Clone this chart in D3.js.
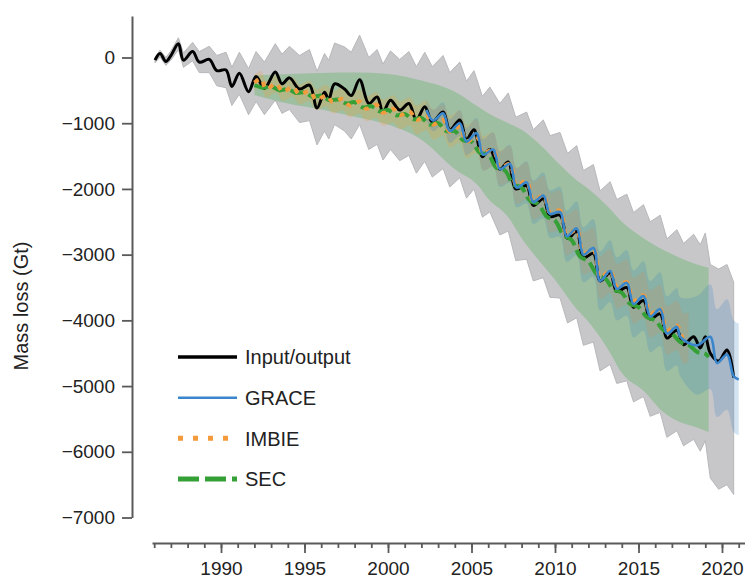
<!DOCTYPE html>
<html>
<head>
<meta charset="utf-8">
<script src="https://cdn.jsdelivr.net/npm/d3@7"></script>
<style>
  html, body { margin: 0; padding: 0; background: #fff; }
  svg { display: block; }
  text { font-family: "Liberation Sans", Arial, Helvetica, sans-serif; fill: #222; }
</style>
</head>
<body>
<svg id="chart" width="745" height="579"></svg>
<script>
// ---------------- DATA ----------------
// Input/output: [year, mass change (Gt), uncertainty below, uncertainty above (optional)]
const inputOutput = [
  [1986.05, -40, 40], [1986.35, 60, 50], [1986.7, -60, 60], [1987.0, 30, 70],
  [1987.45, 210, 90], [1987.75, -40, 110], [1988.3, 90, 140], [1988.7, -70, 160],
  [1989.3, -30, 200], [1989.75, -200, 230], [1990.3, -190, 270], [1990.65, -440, 290],
  [1991.1, -240, 320], [1991.65, -520, 350], [1992.1, -290, 380], [1992.6, -470, 400],
  [1993.25, -220, 430], [1993.65, -400, 450], [1994.1, -310, 480], [1994.7, -480, 510],
  [1995.3, -420, 540], [1995.75, -770, 560], [1996.2, -530, 590], [1996.45, -640, 600],
  [1996.8, -400, 620], [1997.4, -480, 640], [1997.8, -580, 660], [1998.3, -340, 680],
  [1998.85, -700, 700], [1999.35, -600, 720], [1999.7, -830, 730], [2000.15, -650, 750],
  [2000.7, -800, 770], [2001.25, -700, 790], [2001.7, -950, 810], [2002.2, -750, 830],
  [2002.65, -980, 840], [2003.3, -830, 860], [2003.7, -1100, 870], [2004.3, -950, 880],
  [2004.7, -1250, 890], [2005.15, -1100, 900], [2005.65, -1510, 920], [2006.1, -1400, 950],
  [2006.7, -1700, 1000], [2007.2, -1590, 1050], [2007.65, -2000, 1090], [2008.3, -1950, 1120],
  [2008.7, -2250, 1150], [2009.3, -2150, 1200], [2009.7, -2420, 1230], [2010.3, -2400, 1260],
  [2010.75, -2750, 1290], [2011.3, -2650, 1310], [2011.7, -3050, 1330], [2012.3, -2980, 1350],
  [2012.7, -3400, 1370], [2013.3, -3280, 1390], [2013.7, -3560, 1400], [2014.3, -3500, 1420],
  [2014.7, -3800, 1440], [2015.3, -3700, 1460], [2015.7, -3980, 1480], [2016.3, -3900, 1500],
  [2016.7, -4270, 1510], [2017.3, -4150, 1530], [2017.7, -4370, 1540], [2018.3, -4250, 1560],
  [2018.7, -4420, 1570], [2019.0, -4250, 1580], [2019.3, -4500, 1900, 1350],
  [2019.8, -4620, 1950, 1400], [2020.3, -4450, 2050, 1300], [2020.7, -4870, 1780, 1450]
];

// GRACE: [year, mass change (Gt), uncertainty]
const grace = [
  [2002.3, -800, 150], [2002.7, -960, 160], [2003.3, -850, 170], [2003.7, -1120, 180],
  [2004.3, -1000, 200], [2004.7, -1280, 210], [2005.3, -1150, 230], [2005.7, -1480, 240],
  [2006.3, -1400, 260], [2006.7, -1700, 270], [2007.3, -1620, 290], [2007.7, -1980, 300],
  [2008.3, -1900, 320], [2008.7, -2200, 330], [2009.3, -2100, 350], [2009.7, -2380, 360],
  [2010.3, -2350, 380], [2010.7, -2720, 390], [2011.3, -2600, 410], [2011.7, -3000, 420],
  [2012.3, -2900, 440], [2012.7, -3400, 450], [2013.3, -3250, 470], [2013.7, -3520, 480],
  [2014.3, -3430, 500], [2014.7, -3750, 510], [2015.3, -3630, 530], [2015.7, -3940, 540],
  [2016.3, -3830, 560], [2016.7, -4200, 570], [2017.3, -4100, 590], [2017.5, -4250, 600],
  [2018.5, -4380, 750], [2019.3, -4250, 800], [2019.7, -4650, 820], [2020.3, -4520, 840],
  [2020.7, -4850, 850], [2021.0, -4900, 850]
];

// IMBIE: [year, mass change (Gt), uncertainty]
const imbie = [
  [1992.0, -380, 120], [1992.4, -330, 125], [1992.7, -480, 130], [1993.3, -400, 135],
  [1993.7, -520, 140], [1994.3, -450, 145], [1994.7, -560, 150], [1995.3, -510, 155],
  [1995.7, -640, 160], [1996.3, -580, 165], [1996.7, -680, 170], [1997.3, -630, 175],
  [1997.7, -730, 180], [1998.3, -670, 185], [1998.7, -780, 190], [1999.3, -720, 195],
  [1999.7, -840, 200], [2000.3, -780, 205], [2000.7, -880, 210], [2001.3, -820, 215],
  [2001.7, -950, 220], [2002.3, -880, 225], [2002.7, -1020, 230], [2003.3, -950, 235],
  [2003.7, -1130, 240], [2004.3, -1050, 245], [2004.7, -1280, 250], [2005.3, -1200, 255],
  [2005.7, -1460, 260], [2006.3, -1400, 265], [2006.7, -1680, 270], [2007.3, -1620, 275],
  [2007.7, -1950, 280], [2008.3, -1880, 285], [2008.7, -2180, 290], [2009.3, -2100, 295],
  [2009.7, -2360, 300], [2010.3, -2330, 305], [2010.7, -2700, 310], [2011.3, -2620, 315],
  [2011.7, -2980, 320], [2012.3, -2920, 325], [2012.7, -3350, 330], [2013.3, -3250, 335],
  [2013.7, -3480, 340], [2014.3, -3420, 345], [2014.7, -3700, 350], [2015.3, -3620, 355],
  [2015.7, -3900, 360], [2016.3, -3830, 365], [2016.7, -4150, 370], [2017.3, -4080, 375],
  [2017.7, -4280, 380], [2018.0, -4250, 385]
];

// SEC: [year, mass change (Gt)]
const sec = [
  [1992.0, -420], [1992.5, -460], [1993.0, -440], [1993.5, -500], [1994.0, -480], [1994.5, -540],
  [1995.0, -530], [1995.5, -600], [1996.0, -580], [1996.5, -650], [1997.0, -640], [1997.5, -700],
  [1998.0, -680], [1998.5, -760], [1999.0, -740], [1999.5, -820], [2000.0, -800], [2000.5, -880],
  [2001.0, -860], [2001.5, -940], [2002.0, -920], [2002.5, -1020], [2003.0, -1000], [2003.5, -1120],
  [2004.0, -1120], [2004.5, -1260], [2005.0, -1280], [2005.5, -1450], [2006.0, -1480], [2006.5, -1680],
  [2007.0, -1720], [2007.5, -1930], [2008.0, -1980], [2008.5, -2180], [2009.0, -2230], [2009.5, -2420],
  [2010.0, -2480], [2010.5, -2700], [2011.0, -2780], [2011.5, -3030], [2012.0, -3100], [2012.5, -3300],
  [2013.0, -3360], [2013.5, -3530], [2014.0, -3580], [2014.5, -3750], [2015.0, -3800], [2015.5, -3950],
  [2016.0, -4000], [2016.5, -4150], [2017.0, -4200], [2017.5, -4330], [2018.0, -4370], [2018.5, -4480],
  [2019.0, -4510], [2019.2, -4560]
];

// SEC uncertainty envelope: [year, lower (Gt), upper (Gt)]
const secBand = [
  [1992.0, -570, -270], [1994.0, -700, -250], [1996.0, -790, -235], [1998.0, -900, -230],
  [2000.0, -1020, -250], [2002.0, -1250, -350], [2004.0, -1700, -520], [2005.4, -1950, -750],
  [2006.0, -2150, -850], [2007.2, -2430, -1000], [2008.0, -2750, -1100], [2009.2, -3140, -1350],
  [2010.2, -3450, -1610], [2011.2, -3800, -1850], [2012.1, -4050, -2020], [2013.2, -4450, -2280],
  [2014.0, -4800, -2500], [2015.3, -5070, -2750], [2016.5, -5400, -2930], [2017.5, -5550, -3050],
  [2018.5, -5630, -3150], [2019.2, -5700, -3200]
];

const yTicks = [0, -1000, -2000, -3000, -4000, -5000, -6000, -7000];
const xMajorTicks = [1990, 1995, 2000, 2005, 2010, 2015, 2020];
const xMinorTicks = [1986, 1987, 1988, 1989, 1990, 1991, 1992, 1993, 1994, 1995, 1996, 1997, 1998, 1999,
  2000, 2001, 2002, 2003, 2004, 2005, 2006, 2007, 2008, 2009, 2010, 2011, 2012, 2013, 2014, 2015,
  2016, 2017, 2018, 2019, 2020, 2021];
const seriesNames = ["Input/output", "GRACE", "IMBIE", "SEC"];
const yTitle = "Mass loss (Gt)";

// ---------------- DRAW ----------------
const svg = d3.select("#chart");

const x = d3.scaleLinear().domain([1990, 2020]).range([221, 722]);
const xMin = x.invert(152), xMax = x.invert(745);
x.domain([xMin, xMax]).range([152, 745]);

const y = d3.scaleLinear().domain([-7000, 0]).range([517.5, 57.5]);
const yTop = y.invert(16);
y.domain([-7000, yTop]).range([517.5, 16]);

const colors = { io: "#000000", grace: "#3a86cc", imbie: "#f39a3c", sec: "#35a035" };
const smooth = d3.curveCatmullRom.alpha(0.5);

// bands
const g = svg.append("g");
g.append("path")
  .datum(inputOutput)
  .attr("d", d3.area().x(d => x(d[0])).y0(d => y(d[1] - d[2])).y1(d => y(d[1] + (d[3] !== undefined ? d[3] : d[2]))))
  .attr("fill", "#c7c7ca").attr("stroke", "#b8b8bc").attr("stroke-width", 1).attr("stroke-linejoin", "round");

g.append("path")
  .datum(secBand)
  .attr("d", d3.area().x(d => x(d[0])).y0(d => y(d[1])).y1(d => y(d[2])).curve(d3.curveMonotoneX))
  .attr("fill", "#4caf50").attr("fill-opacity", 0.33);

g.append("path")
  .datum(imbie)
  .attr("d", d3.area().curve(smooth).x(d => x(d[0])).y0(d => y(d[1] - d[2])).y1(d => y(d[1] + d[2])))
  .attr("fill", "#f0a040").attr("fill-opacity", 0.25);

g.append("path")
  .datum(grace)
  .attr("d", d3.area().curve(smooth).x(d => x(d[0])).y0(d => y(d[1] - d[2])).y1(d => y(d[1] + d[2])))
  .attr("fill", "#3a7fc4").attr("fill-opacity", 0.22);

// lines
const line = d3.line().curve(smooth).x(d => x(d[0])).y(d => y(d[1]));
g.append("path").datum(inputOutput).attr("d", line)
  .attr("fill", "none").attr("stroke", colors.io).attr("stroke-width", 3).attr("stroke-linejoin", "round");
g.append("path").datum(sec).attr("d", line)
  .attr("fill", "none").attr("stroke", colors.sec).attr("stroke-width", 4).attr("stroke-dasharray", "14,5");
g.append("path").datum(imbie).attr("d", line)
  .attr("fill", "none").attr("stroke", colors.imbie).attr("stroke-width", 4).attr("stroke-dasharray", "5,6");
g.append("path").datum(grace).attr("d", line)
  .attr("fill", "none").attr("stroke", colors.grace).attr("stroke-width", 2.6).attr("stroke-linejoin", "round");

// axes
const axisColor = "#5a5a5a";
const yAxis = svg.append("g").attr("transform", "translate(132,0)")
  .call(d3.axisLeft(y).tickValues(yTicks).tickSize(10).tickSizeOuter(0).tickPadding(7).tickFormat(d3.format("d")));
const xAxis = svg.append("g").attr("transform", "translate(0,543)")
  .call(d3.axisBottom(x).tickValues(xMajorTicks).tickSize(10).tickSizeOuter(0).tickPadding(9).tickFormat(d3.format("d")));
const xMinor = svg.append("g").attr("transform", "translate(0,543)")
  .call(d3.axisBottom(x).tickValues(xMinorTicks).tickSize(5).tickSizeOuter(0).tickFormat(""));
xMinor.select(".domain").remove();

[yAxis, xAxis, xMinor].forEach(a => {
  a.selectAll(".domain").attr("stroke", axisColor).attr("stroke-width", 2);
  a.selectAll(".tick line").attr("stroke", axisColor).attr("stroke-width", 1.8);
  a.selectAll(".tick text").attr("font-size", 19).attr("fill", "#222")
    .attr("font-family", "'Liberation Sans', Arial, sans-serif");
});

// y title
svg.append("text")
  .attr("transform", "translate(28,306) rotate(-90)")
  .attr("text-anchor", "middle")
  .attr("font-size", 20)
  .text(yTitle);

// legend
const legendRows = [
  { name: seriesNames[0], color: colors.io, width: 3.5, dash: null },
  { name: seriesNames[1], color: colors.grace, width: 2.5, dash: null },
  { name: seriesNames[2], color: colors.imbie, width: 5, dash: "5,10" },
  { name: seriesNames[3], color: colors.sec, width: 5, dash: "21,6" }
];
const legendY = d3.scalePoint().domain(seriesNames).range([357, 479]);
const lg = svg.append("g");
legendRows.forEach(r => {
  const yy = legendY(r.name);
  const ln = lg.append("line").attr("x1", 178).attr("x2", 237).attr("y1", yy).attr("y2", yy)
    .attr("stroke", r.color).attr("stroke-width", r.width);
  if (r.dash) ln.attr("stroke-dasharray", r.dash);
  lg.append("text").attr("x", 245).attr("y", yy).attr("dy", "0.36em")
    .attr("font-size", 20).text(r.name);
});
</script>
</body>
</html>
